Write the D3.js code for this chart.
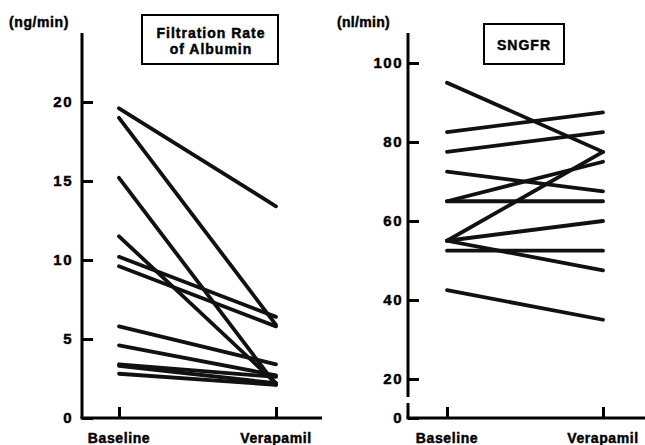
<!DOCTYPE html>
<html lang="en">
<head>
    <meta charset="UTF-8">
    <title>Albumin filtration and SNGFR</title>
    <script src="https://d3js.org/d3.v7.min.js"></script>
    <style>
        body { margin: 0; background: #fff; }
        text {
            font-family: "Liberation Sans", Arial, Helvetica, sans-serif;
            font-weight: bold;
            fill: #000;
            stroke: #000;
            stroke-width: 0.45px;
        }
        .tick text { font-size: 15px; letter-spacing: 1.5px; }
        .tick line { stroke: #000; stroke-width: 3px; }
        .axis-line { stroke: #000; stroke-width: 3px; fill: none; }
        .pair { stroke: #111; stroke-width: 3.8px; fill: none; stroke-linecap: round; }
        .title-box { fill: none; stroke: #000; stroke-width: 2px; }
    </style>
</head>
<body>
<script>
    const width = 645, height = 445;

    const groups = ["Baseline", "Verapamil"];

    // filtration rate of albumin, ng/min
    const albuminBaseline  = [19.6, 19.0, 15.2, 11.5, 10.2, 9.6, 5.8, 4.6, 3.4, 3.3, 2.8];
    const albuminVerapamil = [13.4, 5.9, 2.1, 2.2, 6.4, 5.8, 3.4, 2.7, 2.6, 2.2, 2.1];
    const albuminTicks = [0, 5, 10, 15, 20];

    // single nephron GFR, nl/min
    const sngfrBaseline  = [95, 82.5, 77.5, 72.5, 65, 65, 55, 55, 55, 52.5, 42.5];
    const sngfrVerapamil = [77.5, 87.5, 82.5, 67.5, 75, 65, 77.5, 60, 47.5, 52.5, 35];
    const sngfrTicks = [0, 20, 40, 60, 80, 100];

    const svg = d3.select("body").append("svg")
        .attr("width", width)
        .attr("height", height);

    const yBottom = 418;

    // left panel
    const xL = d3.scalePoint().domain(groups).range([119, 276]);
    const yL = d3.scaleLinear().domain([0, 20]).range([yBottom, 102]);

    // right panel, axis broken between 0 and 20
    const xR = d3.scalePoint().domain(groups).range([447, 603]);
    const yR = d3.scaleLinear().domain([0, 20, 100]).range([yBottom, 379, 63]);

    function drawPanel(g, x, y, ticks, axisX, xEnd, base, vera, labelPad) {
        const yAxis = g.append("g")
            .attr("transform", `translate(${axisX},0)`)
            .call(d3.axisLeft(y).tickValues(ticks).tickSizeInner(-11).tickSizeOuter(0).tickPadding(labelPad));
        yAxis.select(".domain").remove();

        // baseline / verapamil ticks pointing up
        const xAxis = g.append("g")
            .attr("transform", `translate(0,${yBottom})`)
            .call(d3.axisTop(x).tickSizeInner(11).tickSizeOuter(0).tickFormat(""));
        xAxis.select(".domain").remove();

        g.append("line").attr("class", "axis-line")
            .attr("x1", axisX - 1.5).attr("x2", xEnd)
            .attr("y1", yBottom).attr("y2", yBottom);

        g.selectAll(".xlabel")
            .data(groups)
            .enter().append("text")
            .attr("class", "xlabel")
            .attr("x", d => x(d))
            .attr("y", 443)
            .attr("text-anchor", "middle")
            .style("font-size", "14px")
            .style("letter-spacing", "0.6px")
            .text(d => d);

        const pairs = base.map((b, i) => [b, vera[i]]);
        g.selectAll(".pair")
            .data(pairs)
            .enter().append("line")
            .attr("class", "pair")
            .attr("x1", x(groups[0]))
            .attr("x2", x(groups[1]))
            .attr("y1", d => y(d[0]))
            .attr("y2", d => y(d[1]));
    }

    const left = svg.append("g");
    drawPanel(left, xL, yL, albuminTicks, 82, 322, albuminBaseline, albuminVerapamil, 9);
    left.append("line").attr("class", "axis-line")
        .attr("x1", 82).attr("x2", 82).attr("y1", 33).attr("y2", yBottom);

    const right = svg.append("g");
    drawPanel(right, xR, yR, sngfrTicks, 408, 645, sngfrBaseline, sngfrVerapamil, 5);
    right.append("line").attr("class", "axis-line")
        .attr("x1", 408).attr("x2", 408).attr("y1", 33).attr("y2", yR(20) + 18);
    right.append("line").attr("class", "axis-line")
        .attr("x1", 408).attr("x2", 408).attr("y1", yR(0) - 15).attr("y2", yBottom);

    // unit labels
    svg.append("text").attr("x", 9).attr("y", 27)
        .style("font-size", "14px").style("letter-spacing", "0.6px")
        .text("(ng/min)");
    svg.append("text").attr("x", 337).attr("y", 27)
        .style("font-size", "14px").style("letter-spacing", "0.3px")
        .text("(nl/min)");

    // title boxes
    svg.append("rect").attr("class", "title-box")
        .attr("x", 142).attr("y", 15).attr("width", 136).attr("height", 49);
    const t1 = svg.append("text")
        .attr("text-anchor", "middle")
        .style("font-size", "14px").style("letter-spacing", "1px");
    t1.append("tspan").attr("x", 211).attr("y", 38).text("Filtration Rate");
    t1.append("tspan").attr("x", 211).attr("y", 54).text("of Albumin");

    svg.append("rect").attr("class", "title-box")
        .attr("x", 484).attr("y", 24).attr("width", 80).attr("height", 40);
    svg.append("text")
        .attr("x", 524).attr("y", 50)
        .attr("text-anchor", "middle")
        .style("font-size", "14px").style("letter-spacing", "1px")
        .text("SNGFR");
</script>
</body>
</html>
